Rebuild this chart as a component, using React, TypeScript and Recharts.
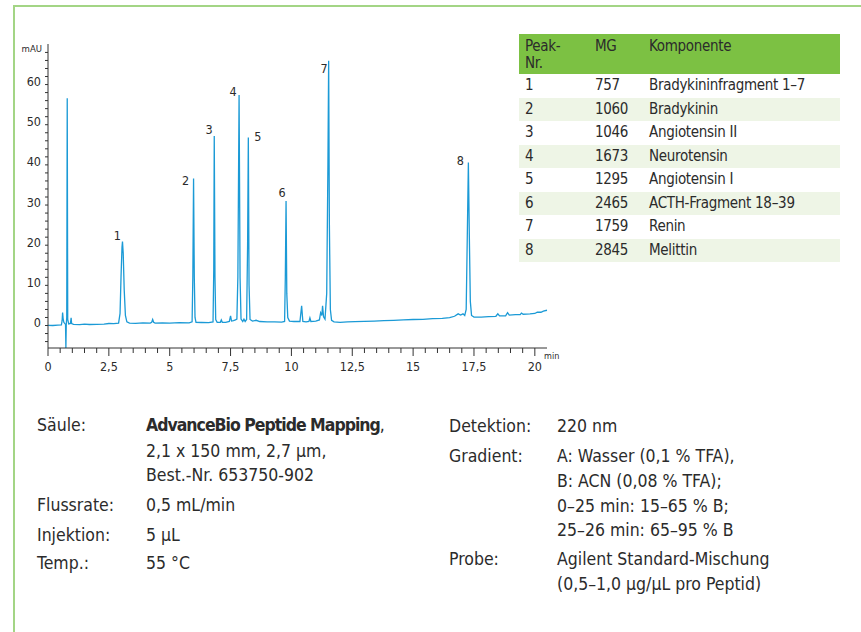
import React from "react";
import { LineChart, Line, XAxis, YAxis, ReferenceDot, Label } from "recharts";

// Chromatogram trace: retention time (min) and absorbance (mAU)
const retentionTimes = [
  0.0, 0.2, 0.4, 0.55, 0.58, 0.6, 0.62, 0.65, 0.7, 0.72, 0.735, 0.75, 0.77, 0.79, 0.81, 0.85, 0.92, 0.95, 0.97,
  1.05, 1.3, 1.5, 1.7, 2.0, 2.3, 2.5, 2.7, 2.9, 2.96, 3.0, 3.04, 3.06, 3.09, 3.13, 3.18, 3.24, 3.35, 3.6, 3.9,
  4.2, 4.26, 4.3, 4.34, 4.4, 4.7, 5.0, 5.4, 5.8, 5.92, 5.95, 5.98, 6.01, 6.04, 6.08, 6.3, 6.6, 6.78, 6.81, 6.83,
  6.86, 6.89, 6.95, 7.08, 7.12, 7.16, 7.3, 7.45, 7.5, 7.54, 7.62, 7.7, 7.76, 7.8, 7.85, 7.89, 7.93, 8.0, 8.05,
  8.1, 8.16, 8.2, 8.23, 8.26, 8.3, 8.4, 8.55, 8.7, 9.0, 9.3, 9.6, 9.72, 9.75, 9.78, 9.81, 9.85, 9.92, 10.1,
  10.35, 10.42, 10.47, 10.6, 10.72, 10.76, 10.8, 11.0, 11.15, 11.2, 11.25, 11.28, 11.32, 11.38, 11.45, 11.5,
  11.53, 11.56, 11.6, 11.65, 11.75, 12.0, 12.3, 12.6, 13.0, 13.4, 13.8, 14.2, 14.6, 15.0, 15.4, 15.8, 16.2,
  16.5, 16.7, 16.85, 16.95, 17.05, 17.12, 17.18, 17.22, 17.27, 17.31, 17.35, 17.4, 17.5, 17.8, 18.1, 18.4,
  18.48, 18.55, 18.8, 18.88, 18.95, 19.2, 19.4, 19.45, 19.52, 19.8, 20.0, 20.1, 20.25, 20.35, 20.5,
];
const absorbance = [
  0.05, 0.0, 0.1, 0.15, 1.2, 3.2, 1.8, 0.8, 0.4, 0.3, -5.6, 0.2, 2, 56.6, 1.5, 0.4, 0.5, 1.9, 0.5,
  0.3, 0.2, 0.35, 0.25, 0.3, 0.35, 0.5, 0.45, 0.6, 3, 12, 19.5, 20.9, 18, 9, 2.5, 0.9, 0.6, 0.55, 0.65,
  0.6, 0.8, 1.5, 0.8, 0.6, 0.65, 0.6, 0.7, 0.65, 0.9, 12, 36.6, 12, 2, 0.8, 0.75, 0.7, 0.9, 14, 47.2,
  12, 1.5, 0.8, 0.8, 1.4, 0.8, 0.8, 1.0, 2.4, 1.1, 1.2, 1.4, 1.6, 12, 57.4, 12, 1.6, 1.0, 1.6,
  1.0, 1.5, 20, 46.8, 10, 1.5, 1.1, 1.3, 1.0, 0.9, 0.9, 0.85, 1.0, 12, 31.0, 8, 2, 1.1, 1.0,
  1.0, 4.9, 1.0, 0.9, 1.0, 1.9, 1.0, 1.1, 1.4, 3.2, 2.5, 4.9, 2.2, 1.6, 8, 40,
  65.9, 25, 4, 1.3, 0.9, 0.8, 0.9, 0.95, 1.05, 1.1, 1.2, 1.3, 1.4, 1.5, 1.55, 1.7, 1.8,
  1.95, 2.3, 2.9, 2.6, 2.9, 2.5, 4, 20, 40.6, 22, 6, 2.5, 2.1, 2.1, 2.2, 2.3,
  2.9, 2.4, 2.4, 3.2, 2.6, 2.7, 2.7, 3.1, 2.8, 2.9, 3.0, 3.3, 3.3, 3.6, 3.8,
];

// Numbered peaks
const peakNumbers = [1, 2, 3, 4, 5, 6, 7, 8];
const peakTimes = [3.06, 5.98, 6.83, 7.85, 8.23, 9.78, 11.53, 17.27];
const peakHeights = [20.9, 36.6, 47.2, 57.4, 46.8, 31.0, 65.9, 40.6];

// Axis ticks
const xTicks = [
  0, 0.5, 1, 1.5, 2, 2.5, 3, 3.5, 4, 4.5, 5, 5.5, 6, 6.5, 7, 7.5, 8, 8.5, 9, 9.5, 10, 10.5, 11, 11.5, 12, 12.5,
  13, 13.5, 14, 14.5, 15, 15.5, 16, 16.5, 17, 17.5, 18, 18.5, 19, 19.5, 20,
];
const xMajorTicks = [0, 2.5, 5, 7.5, 10, 12.5, 15, 17.5, 20];
const xTickLabels = ["0", "2,5", "5", "7,5", "10", "12,5", "15", "17,5", "20"];
const yTicks = [-4, -2, 0, 2, 4, 6, 8, 10, 12, 14, 16, 18, 20, 22, 24, 26, 28, 30, 32, 34, 36, 38, 40, 42, 44, 46, 48, 50, 52, 54, 56, 58, 60, 62, 64, 66, 68];
const yMajorTicks = [0, 10, 20, 30, 40, 50, 60];
const yTickLabels = ["0", "10", "20", "30", "40", "50", "60"];

// Peak table
const tablePeakNr = ["1", "2", "3", "4", "5", "6", "7", "8"];
const tableMG = ["757", "1060", "1046", "1673", "1295", "2465", "1759", "2845"];
const tableComponents = [
  "Bradykininfragment 1–7",
  "Bradykinin",
  "Angiotensin II",
  "Neurotensin",
  "Angiotensin I",
  "ACTH-Fragment 18–39",
  "Renin",
  "Melittin",
];

// Method conditions
const leftLabels = ["Säule:", "", "", "Flussrate:", "Injektion:", "Temp.:"];
const leftValues = ["AdvanceBio Peptide Mapping", "2,1 x 150 mm, 2,7 µm,", "Best.-Nr. 653750-902", "0,5 mL/min", "5 µL", "55 °C"];
const rightLabels = ["Detektion:", "Gradient:", "", "", "", "Probe:", ""];
const rightValues = [
  "220 nm",
  "A: Wasser (0,1 % TFA),",
  "B: ACN (0,08 % TFA);",
  "0–25 min: 15–65 % B;",
  "25–26 min: 65–95 % B",
  "Agilent Standard-Mischung",
  "(0,5–1,0 µg/µL pro Peptid)",
];

const FONT = '"Liberation Sans Narrow", "DejaVu Sans Condensed", "Roboto Condensed", "Liberation Sans", sans-serif';
const TEXT = "#2b2b2b";
const TRACE = "#1b9ad6";
const FRAME = "#a3d585";
const HEAD = "#7cc143";
const STRIPE = "#eef5e6";

const traceData = retentionTimes.map((t, i) => ({ t, mAU: absorbance[i] }));

// label nudges (dx, dy) per peak number
const labelNudge: Record<number, [number, number]> = {
  1: [-1.5, -5.5],
  2: [-4.5, 2],
  3: [-1.5, -6],
  4: [-2.5, -3],
  5: [6, -1],
  6: [-0.5, -8],
  7: [-1, 8],
  8: [-4.5, -1],
};

function XTick({ x, y, payload }: any) {
  const v = payload.value;
  const idx = xMajorTicks.indexOf(v);
  const major = idx >= 0;
  return (
    <g>
      <line x1={x} x2={x} y1={y} y2={y + (major ? 8 : 5)} stroke="#333" strokeWidth={1} />
      {major && (
        <text x={x} y={y + 23} textAnchor="middle" fill={TEXT} fontSize={12.5} fontFamily={FONT}>
          {xTickLabels[idx]}
        </text>
      )}
    </g>
  );
}

function YTick({ x, y, payload }: any) {
  const v = payload.value;
  const idx = yMajorTicks.indexOf(v);
  return (
    <g>
      <line x1={x - 3} x2={x} y1={y} y2={y} stroke="#333" strokeWidth={1} />
      {idx >= 0 && (
        <text x={x - 7} y={y + 1.5} textAnchor="end" fill={TEXT} fontSize={12.5} fontFamily={FONT}>
          {yTickLabels[idx]}
        </text>
      )}
    </g>
  );
}

function PeakLabel({ viewBox, value }: any) {
  const [dx, dy] = labelNudge[value] ?? [-3, 0];
  return (
    <text
      x={viewBox.x + dx}
      y={viewBox.y + dy + 4}
      textAnchor={dx < 0 ? "end" : "start"}
      fill={TEXT}
      fontSize={12.5}
      fontFamily={FONT}
    >
      {value}
    </text>
  );
}

function Chromatogram() {
  return (
    <LineChart width={560} height={380} data={traceData} margin={{ top: 44, right: 13, bottom: 0, left: 0 }}>
      <XAxis
        dataKey="t"
        type="number"
        domain={[0, 20.5]}
        ticks={xTicks}
        interval={0}
        height={32}
        tick={<XTick />}
        tickLine={false}
        tickSize={0}
        tickMargin={0}
        axisLine={{ stroke: "#333" }}
      >
        <Label
          content={({ viewBox }: any) => (
            <text x={viewBox.x + viewBox.width - 3} y={viewBox.y + 11} fontSize={9} fill={TEXT} fontFamily={FONT}>
              min
            </text>
          )}
        />
      </XAxis>
      <YAxis
        type="number"
        domain={[-5.6, 70.1]}
        ticks={yTicks}
        interval={0}
        width={48}
        tick={<YTick />}
        tickLine={false}
        tickSize={0}
        tickMargin={0}
        axisLine={{ stroke: "#333" }}
      >
        <Label
          content={({ viewBox }: any) => (
            <text
              x={viewBox.x + viewBox.width - 6}
              y={viewBox.y + 8}
              textAnchor="end"
              fontSize={9.5}
              fill={TEXT}
              fontFamily={FONT}
            >
              mAU
            </text>
          )}
        />
      </YAxis>
      <Line
        type="linear"
        dataKey="mAU"
        stroke={TRACE}
        strokeWidth={1.3}
        dot={false}
        isAnimationActive={false}
      />
      {peakNumbers.map((n, i) => (
        <ReferenceDot
          key={n}
          x={peakTimes[i]}
          y={peakHeights[i]}
          r={0}
          fill="none"
          stroke="none"
          label={<PeakLabel value={n} />}
        />
      ))}
    </LineChart>
  );
}

function PeakTable() {
  const cell: React.CSSProperties = {
    padding: "0 0 0 6px",
    height: 23.5,
    lineHeight: "23px",
    whiteSpace: "nowrap",
    boxSizing: "border-box",
  };
  const head: React.CSSProperties = {
    ...cell,
    height: 40,
    lineHeight: "17px",
    fontWeight: 400,
    textAlign: "left",
    verticalAlign: "top",
    paddingTop: 4,
  };
  return (
    <table
      style={{
        position: "absolute",
        left: 519,
        top: 34,
        width: 321,
        borderCollapse: "collapse",
        borderSpacing: 0,
        fontFamily: FONT,
        fontSize: 15,
        letterSpacing: -0.3,
        color: TEXT,
      }}
    >
      <thead>
        <tr style={{ background: HEAD }}>
          <th style={{ ...head, width: 70 }}>
            Peak-
            <br />
            Nr.
          </th>
          <th style={{ ...head, width: 54 }}>MG</th>
          <th style={head}>Komponente</th>
        </tr>
      </thead>
      <tbody>
        {tablePeakNr.map((nr, i) => (
          <tr key={nr} style={{ background: i % 2 === 1 ? STRIPE : "#fff" }}>
            <td style={cell}>{nr}</td>
            <td style={cell}>{tableMG[i]}</td>
            <td style={cell}>{tableComponents[i]}</td>
          </tr>
        ))}
      </tbody>
    </table>
  );
}

function Conditions({
  left,
  top,
  labels,
  values,
  tops,
  valueX,
}: {
  left: number;
  top: number;
  labels: string[];
  values: string[];
  tops: number[];
  valueX: number;
}) {
  return (
    <div style={{ position: "absolute", left, top, fontFamily: FONT, fontSize: 17.5, color: TEXT }}>
      {values.map((v, i) => (
        <React.Fragment key={i}>
          {labels[i] && <div style={{ position: "absolute", left: 0, top: tops[i], whiteSpace: "nowrap" }}>{labels[i]}</div>}
          <div style={{ position: "absolute", left: valueX, top: tops[i], whiteSpace: "nowrap" }}>
            {v === "AdvanceBio Peptide Mapping" ? (
              <>
                <b style={{ letterSpacing: -1 }}>{v}</b>,
              </>
            ) : (
              v
            )}
          </div>
        </React.Fragment>
      ))}
    </div>
  );
}

export default function App() {
  return (
    <div
      style={{
        position: "absolute",
        left: 0,
        top: 0,
        width: 861,
        height: 632,
        background: "#fff",
        overflow: "hidden",
      }}
    >
      <div style={{ position: "absolute", left: 13, top: 5, width: 848, height: 2, background: FRAME }} />
      <div style={{ position: "absolute", left: 13, top: 5, width: 2, height: 627, background: FRAME }} />
      <div style={{ position: "absolute", left: 0, top: 0 }}>
        <Chromatogram />
      </div>
      <PeakTable />
      <Conditions left={37} top={415} labels={leftLabels} values={leftValues} tops={[0, 26, 50, 80, 110, 138]} valueX={109} />
      <Conditions left={449} top={416} labels={rightLabels} values={rightValues} tops={[0, 30, 55, 80, 104, 133, 158]} valueX={108} />
    </div>
  );
}
